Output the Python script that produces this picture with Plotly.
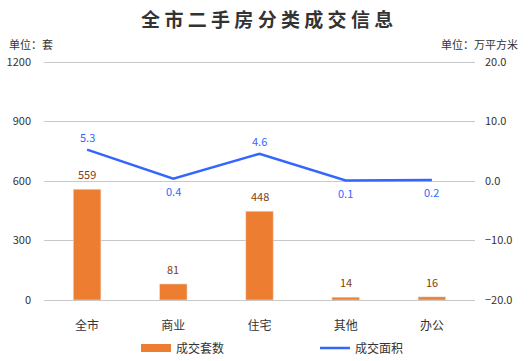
import plotly.graph_objects as go

categories = ["全市", "商业", "住宅", "其他", "办公"]
units_sold = [559, 81, 448, 14, 16]
area_sold = [5.3, 0.4, 4.6, 0.1, 0.2]
area_label_above = [True, False, True, False, False]

FONT = "Noto Sans CJK SC"
ORANGE = "#ED7D31"
BLUE = "#3366FF"

fig = go.Figure()
fig.add_trace(go.Bar(
    x=categories, y=units_sold, name="成交套数", showlegend=False,
    marker=dict(color=ORANGE), width=0.32,
))
fig.add_trace(go.Scatter(
    x=categories, y=area_sold, name="成交面积", yaxis="y2", showlegend=False,
    mode="lines", line=dict(color=BLUE, width=2.5),
    cliponaxis=False,
))
# legend proxies
fig.add_trace(go.Scatter(x=[None], y=[None], mode="lines", name="成交套数",
                         line=dict(color=ORANGE, width=8), legend="legend"))
fig.add_trace(go.Scatter(x=[None], y=[None], mode="lines", name="成交面积",
                         line=dict(color=BLUE, width=2.5), legend="legend2"))

PH = 239.0  # plot height px
annotations = []
for c, v in zip(categories, units_sold):
    annotations.append(dict(x=c, y=v, xref="x", yref="y", text=str(v), showarrow=False,
                            yanchor="middle", yshift=15,
                            font=dict(color="#843C0C", size=11, family=FONT)))
for c, v, above in zip(categories, area_sold, area_label_above):
    annotations.append(dict(x=c, y=v, xref="x", yref="y2", text=f"{v:.1f}", showarrow=False,
                            yanchor="middle", yshift=13 if above else -12,
                            font=dict(color=BLUE, size=11, family=FONT)))
annotations.append(dict(text="单位：套", xref="paper", yref="paper", x=-44/431, y=(300-44)/PH,
                        xanchor="left", yanchor="middle", showarrow=False, xshift=7,
                        font=dict(size=11, color="#333333")))
annotations.append(dict(text="单位：万平方米", xref="paper", yref="paper", x=1 + 54/431, y=(300-44)/PH,
                        xanchor="right", yanchor="middle", showarrow=False, xshift=-9,
                        font=dict(size=11, color="#333333")))

fig.update_layout(
    width=529, height=361,
    margin=dict(l=44, r=54, t=61, b=61, pad=0, autoexpand=False),
    paper_bgcolor="white", plot_bgcolor="white",
    font=dict(family=FONT, size=11, color="#333333"),
    title=dict(text="<b>全 市 二 手 房 分 类 成 交 信 息</b>", x=0.505, xanchor="center",
               y=1 - 20/361, yanchor="middle",
               font=dict(size=19, color="#333333", family=FONT)),
    legend=dict(orientation="h", x=(136-44)/431, xanchor="left", y=-48/PH, yanchor="middle",
                font=dict(size=12, color="#333333"), bgcolor="rgba(0,0,0,0)"),
    legend2=dict(orientation="h", x=(315-44)/431, xanchor="left", y=-48/PH, yanchor="middle",
                 font=dict(size=12, color="#333333"), bgcolor="rgba(0,0,0,0)"),
    bargap=0.68,
    xaxis=dict(showgrid=False, showline=False, ticks="", ticklabelstandoff=17,
               tickfont=dict(size=12, color="#333333")),
    yaxis=dict(range=[0, 1206], tickvals=[0, 300, 600, 900, 1200], showgrid=True,
               gridcolor="#C8C8C8", gridwidth=1,
               zeroline=True, zerolinecolor="#C8C8C8", zerolinewidth=1,
               showline=False, ticks="", ticklabelstandoff=12,
               tickfont=dict(size=11, color="#333333")),
    yaxis2=dict(range=[-20, 20.2], tickvals=[-20, -10, 0, 10, 20], tickformat=".1f",
                overlaying="y", side="right",
                showgrid=False, zeroline=False, showline=False, ticks="", ticklabelstandoff=9,
                tickfont=dict(size=11, color="#333333")),
    annotations=annotations,
)

fig.write_html("out.html", config={"displayModeBar": False},
               post_script="document.body.style.margin='0';document.body.style.padding='0';")
